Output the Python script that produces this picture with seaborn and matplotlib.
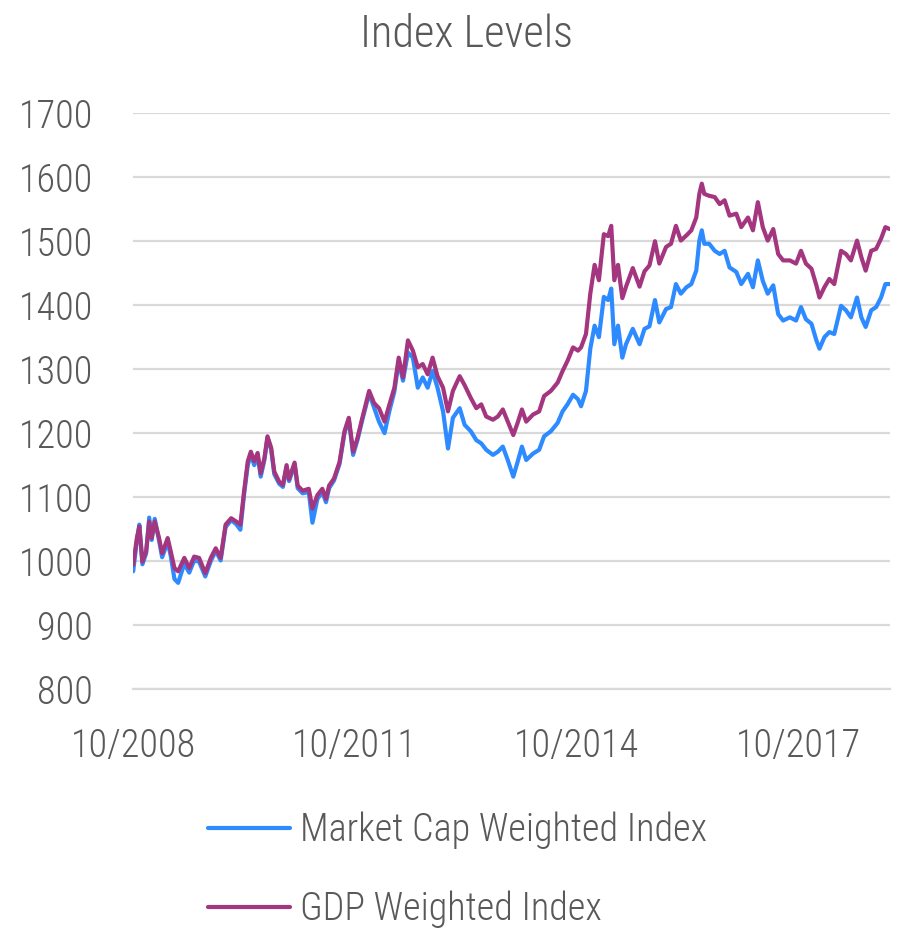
import numpy as np
import pandas as pd
import seaborn as sns
import matplotlib.pyplot as plt
from matplotlib import font_manager

# ---- data (months since 10/2008, index levels) ----
months = [0.0, 0.6, 1.0, 1.5, 2.1, 2.6, 3.0, 3.5, 4.2, 4.7, 5.6, 6.1, 6.7, 7.3,
          8.3, 9.1, 9.9, 10.7, 11.7, 12.6, 13.4, 14.2, 15.0, 15.9, 16.7, 17.4,
          18.0, 18.6, 19.1, 19.65, 20.2, 20.7, 21.3, 21.8, 22.4, 22.9, 23.7,
          24.3, 24.9, 25.3, 26.2, 26.7, 27.5, 28.5, 29.1, 29.9, 30.7, 31.3,
          31.8, 32.6, 33.5, 34.3, 35.0, 35.7, 36.4, 37.2, 38.3, 39.1, 39.9,
          40.8, 41.6, 42.4, 43.1, 43.8, 44.6, 45.4, 46.2, 47.0, 47.8, 48.6,
          49.4, 50.3, 51.1, 51.9, 53.0, 53.8, 54.8, 55.7, 56.5, 57.3, 58.4,
          59.2, 60.0, 60.8, 61.7, 62.4, 63.1, 63.8, 64.9, 65.9, 66.7, 67.8,
          68.9, 69.7, 70.5, 71.4, 72.2, 72.7, 73.5, 74.2, 74.9, 75.6, 76.4,
          77.1, 77.6, 78.1, 78.7, 79.4, 80.0, 81.1, 82.2, 83.0, 83.8, 84.7,
          85.4, 86.5, 87.3, 88.1, 88.9, 89.8, 90.6, 91.4, 91.9, 92.3, 92.7,
          93.5, 94.4, 95.2, 96.0, 96.8, 97.9, 98.7, 99.8, 100.6, 101.4, 102.2,
          103.0, 103.9, 104.7, 105.5, 106.6, 107.6, 108.4, 109.2, 110.1, 110.9,
          111.4, 112.2, 113.0, 113.8, 114.9, 115.7, 116.5, 117.5, 118.2, 118.9,
          119.8, 120.6, 121.4, 122.1, 122.8]

gdp_index = [994, 1036, 1054, 999, 1015, 1062, 1036, 1062, 1036, 1012, 1036, 1015,
             989, 984, 1005, 989, 1007, 1005, 981, 1005, 1020, 1005, 1057, 1067,
             1062, 1057, 1109, 1156, 1171, 1156, 1169, 1137, 1161, 1195, 1177,
             1140, 1124, 1119, 1150, 1128, 1154, 1118, 1110, 1113, 1082, 1103,
             1113, 1097, 1118, 1129, 1155, 1203, 1224, 1171, 1192, 1224, 1266,
             1247, 1239, 1218, 1245, 1271, 1318, 1287, 1345, 1329, 1303, 1308,
             1292, 1318, 1289, 1271, 1234, 1266, 1289, 1275, 1255, 1239, 1245,
             1226, 1221, 1226, 1237, 1218, 1197, 1216, 1237, 1218, 1229, 1234,
             1258, 1266, 1279, 1297, 1313, 1334, 1329, 1334, 1355, 1418, 1463,
             1439, 1511, 1508, 1524, 1439, 1463, 1411, 1429, 1458, 1429, 1453,
             1462, 1500, 1465, 1491, 1496, 1524, 1501, 1509, 1517, 1537, 1574,
             1590, 1574, 1571, 1569, 1558, 1564, 1540, 1543, 1522, 1537, 1517,
             1561, 1522, 1501, 1519, 1480, 1470, 1470, 1465, 1485, 1465, 1457,
             1431, 1412, 1428, 1441, 1433, 1485, 1480, 1470, 1501, 1475, 1454,
             1485, 1488, 1504, 1522, 1519]

mcap_index = [984, 1032, 1057, 995, 1012, 1068, 1033, 1066, 1032, 1006, 1030, 1008,
              972, 966, 996, 982, 1001, 999, 976, 1000, 1016, 1001, 1053, 1064,
              1058, 1049, 1104, 1150, 1166, 1150, 1165, 1132, 1158, 1193, 1174,
              1136, 1121, 1116, 1147, 1125, 1151, 1114, 1106, 1108, 1060, 1097,
              1108, 1092, 1114, 1126, 1152, 1200, 1221, 1166, 1189, 1221, 1262,
              1240, 1218, 1200, 1235, 1265, 1312, 1282, 1326, 1318, 1271, 1287,
              1271, 1297, 1271, 1234, 1176, 1224, 1239, 1213, 1203, 1189, 1184,
              1174, 1166, 1171, 1179, 1158, 1132, 1155, 1179, 1158, 1168, 1174,
              1195, 1203, 1216, 1234, 1245, 1260, 1253, 1242, 1266, 1332, 1368,
              1350, 1413, 1408, 1426, 1339, 1368, 1318, 1339, 1363, 1339, 1363,
              1367, 1408, 1373, 1394, 1397, 1433, 1418, 1428, 1433, 1454, 1501,
              1517, 1496, 1496, 1485, 1480, 1485, 1459, 1452, 1433, 1449, 1428,
              1470, 1438, 1418, 1431, 1386, 1376, 1381, 1376, 1397, 1378, 1371,
              1345, 1332, 1350, 1358, 1355, 1399, 1392, 1381, 1412, 1381, 1366,
              1392, 1397, 1412, 1433, 1433]

series_names = ["Market Cap Weighted Index", "GDP Weighted Index"]
tick_labels = ["10/2008", "10/2011", "10/2014", "10/2017"]

start = pd.Timestamp("2008-10-01")
dates = start + pd.to_timedelta(np.array(months) * 30.4375, unit="D")

df = pd.DataFrame({
    "date": list(dates) * 2,
    "level": mcap_index + gdp_index,
    "series": [series_names[0]] * len(months) + [series_names[1]] * len(months),
})

sns.set_style("white")

# the original uses a condensed face; use one if the machine has it
installed = {f.name for f in font_manager.fontManager.ttflist}
condensed = [n for n in ["Roboto Condensed", "Noto Sans Condensed",
                         "Liberation Sans Narrow", "Open Sans Condensed",
                         "Arial Narrow"] if n in installed]
if condensed:
    plt.rcParams['font.family'] = [condensed[0], 'DejaVu Sans']
    tick_size, title_size = 27.5, 32
else:
    plt.rcParams['font.family'] = ['Roboto', 'DejaVu Sans']
    tick_size, title_size = 24, 30
fpx = tick_size * 100 / 72

grey_text = "#595959"
grey_line = "#d9d9d9"
palette = {series_names[0]: "#2e8bff", series_names[1]: "#a3367f"}

fig = plt.figure(figsize=(9.06, 9.47), dpi=100)
ax = fig.add_axes([0.147, 0.2724, 0.835, 0.608])

sns.lineplot(data=df, x="date", y="level", hue="series", hue_order=series_names,
             palette=palette, linewidth=3, ax=ax)

ax.set_ylim(800, 1700)
ax.set_yticks(range(800, 1701, 100))
ax.set_xlim(dates[0], dates[-1])
ax.set_xticks([pd.Timestamp(f"{y}-10-01") for y in (2008, 2011, 2014, 2017)])
ax.set_xticklabels(tick_labels)
ax.set_xlabel("")
ax.set_ylabel("")

ax.yaxis.grid(True, color=grey_line, linewidth=1.6)
ax.set_axisbelow(True)
for s in ["left", "right", "top"]:
    ax.spines[s].set_visible(False)
ax.spines["bottom"].set_color(grey_line)
ax.spines["bottom"].set_linewidth(1.6)

ax.tick_params(axis="y", length=0, pad=29, labelsize=tick_size, labelcolor=grey_text)
ax.tick_params(axis="x", length=9, width=1.6, color=grey_line, pad=19,
               labelsize=tick_size, labelcolor=grey_text)
for lab in ax.get_xticklabels() + ax.get_yticklabels():
    lab.set_fontweight("light")

fig.text(0.515, 0.963, "Index Levels", ha="center", va="center",
         fontsize=title_size, color=grey_text, fontweight="light")

# legend below the plot, stacked
handles, labels = ax.get_legend_handles_labels()
ax.get_legend().remove()
for h in handles:
    h.set_linewidth(3)
leg_top = 827 - 0.4 * fpx
fig.legend(handles, labels, loc="upper left",
           bbox_to_anchor=(208 / 906, 1 - leg_top / 947),
           frameon=False, fontsize=tick_size, labelcolor=grey_text,
           prop={"weight": "light", "size": tick_size},
           handlelength=82 / fpx, handletextpad=10 / fpx,
           labelspacing=77 / fpx - 0.93,
           borderpad=0, borderaxespad=0)

fig.savefig("out.png", dpi=100)
